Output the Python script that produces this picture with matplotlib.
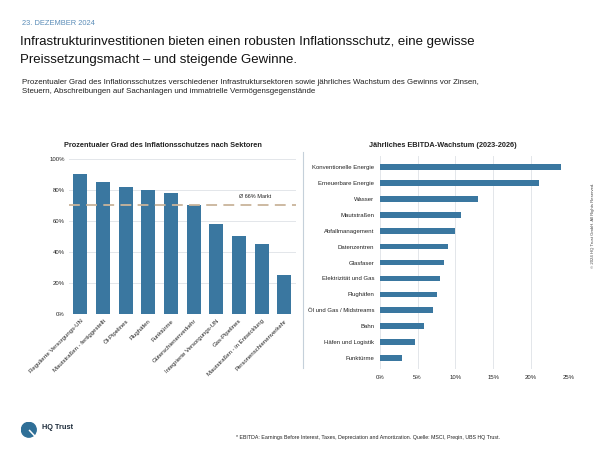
import numpy as np
import matplotlib.pyplot as plt
from matplotlib.lines import Line2D
from matplotlib.patches import Circle

plt.rcParams['font.family'] = ['Liberation Sans', 'DejaVu Sans']

# left chart: inflation protection by sector
sectors = ["Regulierte Versorgungs-UN", "Mautstraßen - fertiggestellt", "Öl-Pipelines",
           "Flughäfen", "Funktürme", "Güterschienenverkehr", "Integrierte Versorgungs-UN",
           "Gas-Pipelines", "Mautstraßen - in Entwicklung", "Personenschienenverkehr"]
protection = [90, 85, 82, 80, 78, 70, 58, 50, 45, 25]
market_line = 70.5
market_label = "Ø 66% Markt"

# right chart: annual EBITDA growth
growth_sectors = ["Konventionelle Energie", "Erneuerbare Energie", "Wasser", "Mautstraßen",
                  "Abfallmanagement", "Datenzentren", "Glasfaser", "Elektrizität und Gas",
                  "Flughäfen", "Öl und Gas / Midstreams", "Bahn", "Häfen und Logistik",
                  "Funktürme"]
growth = [24, 21, 13, 10.8, 10, 9, 8.5, 8, 7.5, 7, 5.8, 4.7, 3]

bar_col = '#3a77a0'
grid_col = '#e3e6ea'
text_col = '#222222'

fig = plt.figure(figsize=(6, 4.5), dpi=100)

fig.text(0.036, 0.948, "23. DEZEMBER 2024", fontsize=5.4, color='#5b8db8', va='center')
fig.text(0.034, 0.906, "Infrastrukturinvestitionen bieten einen robusten Inflationsschutz, eine gewisse",
         fontsize=9.5, color='#111111', va='center')
fig.text(0.034, 0.866, "Preissetzungsmacht – und steigende Gewinne.",
         fontsize=9.5, color='#111111', va='center')
fig.text(0.036, 0.816, "Prozentualer Grad des Inflationsschutzes verschiedener Infrastruktursektoren sowie jährliches Wachstum des Gewinns vor Zinsen,",
         fontsize=5.65, color=text_col, va='center')
fig.text(0.036, 0.797, "Steuern, Abschreibungen auf Sachanlagen und immatrielle Vermögensgegenstände",
         fontsize=5.65, color=text_col, va='center')

# left axes
ax1 = fig.add_axes([0.115, 0.302, 0.378, 0.345])
x = np.arange(len(sectors))
ax1.bar(x, protection, width=0.62, color=bar_col, zorder=2)
ax1.axhline(market_line, color='#c9b49b', lw=1.3, ls=(0, (6, 3.5)), zorder=3)
ax1.text(8.4, market_line + 3.5, market_label, fontsize=4.0, color=text_col, ha='right', va='bottom')
ax1.set_xlim(-0.5, 9.5)
ax1.set_ylim(0, 100)
ax1.set_yticks(range(0, 101, 20))
ax1.set_yticklabels([f"{v}%" for v in range(0, 101, 20)], fontsize=4.3, color=text_col)
ax1.set_xticks(x)
ax1.set_xticklabels(sectors, rotation=45, ha='right', rotation_mode='anchor', fontsize=4.3, color=text_col)
ax1.tick_params(length=0, pad=3)
ax1.grid(axis='y', color=grid_col, lw=0.7, zorder=0)
for s in ax1.spines.values():
    s.set_visible(False)
fig.text(0.272, 0.676, "Prozentualer Grad des Inflationsschutzes nach Sektoren",
         fontsize=5.3, fontweight='bold', color=text_col, ha='center', va='center')

# right axes
ax2 = fig.add_axes([0.633, 0.18, 0.315, 0.473])
y = np.arange(len(growth_sectors))
ax2.barh(y, growth, height=0.35, color=bar_col, zorder=2)
ax2.set_ylim(12.7, -0.7)
ax2.set_xlim(0, 25)
ax2.set_xticks(range(0, 26, 5))
ax2.set_xticklabels([f"{v}%" for v in range(0, 26, 5)], fontsize=4.3, color=text_col)
ax2.set_yticks(y)
ax2.set_yticklabels(growth_sectors, fontsize=4.3, color=text_col)
ax2.tick_params(length=0, pad=4)
ax2.grid(axis='x', color=grid_col, lw=0.7, zorder=0)
for s in ax2.spines.values():
    s.set_visible(False)
fig.text(0.738, 0.676, "Jährliches EBITDA-Wachstum (2023-2026)",
         fontsize=5.3, fontweight='bold', color=text_col, ha='center', va='center')

# divider
fig.add_artist(Line2D([0.505, 0.505], [0.182, 0.662], color='#c5d0da', lw=0.8))

# copyright
fig.text(0.988, 0.50, "© 2024 HQ Trust GmbH. All Rights Reserved.", fontsize=3.1,
         rotation=90, color='#444444', ha='center', va='center')

# logo
logo_ax = fig.add_axes([0.035, 0.027, 0.026, 0.036])
logo_ax.set_xlim(-1, 1)
logo_ax.set_ylim(-1, 1)
logo_ax.set_aspect('equal')
logo_ax.axis('off')
logo_ax.add_patch(Circle((0, 0), 0.95, color='#2f6f97'))
logo_ax.plot([0.1, 0.9], [-0.1, -0.95], color='white', lw=1.1)
fig.text(0.07, 0.051, "HQ Trust", fontsize=5.3, fontweight='bold', color='#1d2b3a', va='center')

fig.text(0.833, 0.027, "* EBITDA: Earnings Before Interest, Taxes, Depreciation and Amortization. Quelle: MSCI, Preqin, UBS HQ Trust.",
         fontsize=3.8, color=text_col, ha='right', va='center')

fig.savefig("out.png", dpi=100)
